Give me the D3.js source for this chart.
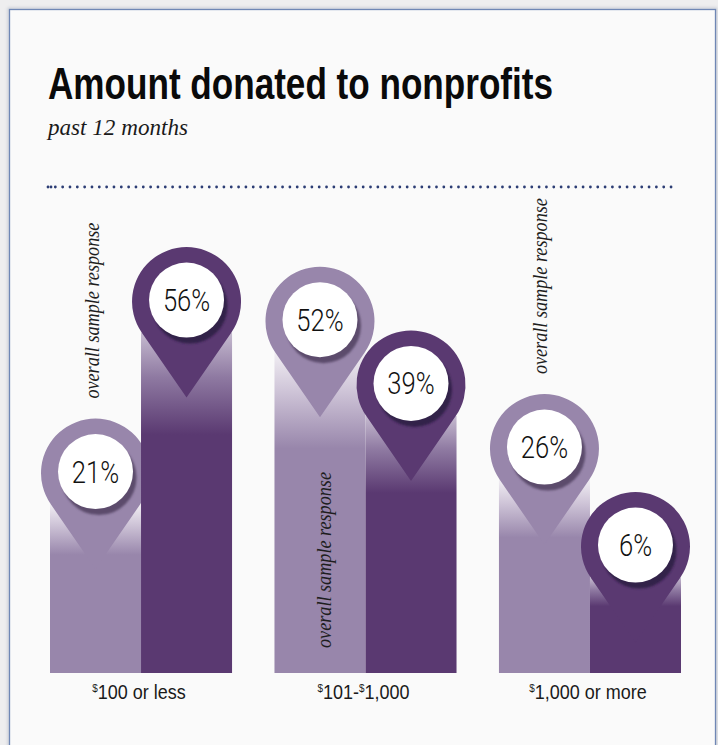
<!DOCTYPE html>
<html>
<head>
<meta charset="utf-8">
<script src="https://cdn.jsdelivr.net/npm/d3@7"></script>
<style>
  html, body { margin: 0; padding: 0; background: #eeeeef; }
  svg { display: block; }
</style>
</head>
<body>
<svg id="chart" width="718" height="745"></svg>
<script>
// ---- data ----
const categories = ["$100 or less", "$101-$1,000", "$1,000 or more"];
const seriesKeys = ["overall", "segment"];
const overallValues = [21, 52, 26];   // overall sample response
const segmentValues = [56, 39, 6];
const noteText = "overall sample response";
const titleText = "Amount donated to nonprofits";
const subtitleText = "past 12 months";

const rows = categories.map((c, i) => ({
  category: c,
  values: [
    { key: "overall", value: overallValues[i] },
    { key: "segment", value: segmentValues[i] }
  ]
}));

// ---- layout ----
const baseline = 673;
const pinR = 54.5, pinTip = 96, innerR = 37.5;
const tangentY = pinR * pinR / pinTip;               // where the pin's sides meet the circle
const tangentX = Math.sqrt(pinR * pinR - tangentY * tangentY);

const colors = { overall: "#9886ab", segment: "#5a3971" };
const shadowCol = { overall: "#5c4c6c", segment: "#33204a" };

const svg = d3.select("#chart");
const defs = svg.append("defs");

// gradients: bars fade to pale toward the top
function addGrad(id, stops) {
  const g = defs.append("linearGradient").attr("id", id)
    .attr("x1", 0).attr("y1", 0).attr("x2", 0).attr("y2", 1);
  stops.forEach(([o, c]) => g.append("stop").attr("offset", o).attr("stop-color", c));
}
addGrad("grad-overall", [[0, "#f1eef3"], [0.12, "#cfc5d8"], [0.3, colors.overall], [1, colors.overall]]);
addGrad("grad-segment", [[0, "#c6bbd0"], [0.13, "#8f7aa2"], [0.3, colors.segment], [1, colors.segment]]);

const blur = defs.append("filter").attr("id", "soft")
  .attr("x", "-30%").attr("y", "-30%").attr("width", "160%").attr("height", "160%");
blur.append("feGaussianBlur").attr("stdDeviation", 1.3);

const panelShadow = defs.append("filter").attr("id", "panelShadow")
  .attr("x", "-5%").attr("y", "-5%").attr("width", "110%").attr("height", "110%");
panelShadow.append("feGaussianBlur").attr("stdDeviation", 1.5);

// ---- panel ----
svg.append("rect").attr("x", 9).attr("y", 9).attr("width", 707).attr("height", 800)
  .attr("fill", "none").attr("stroke", "#c9cdd6").attr("stroke-width", 3).attr("filter", "url(#panelShadow)");
svg.append("rect").attr("x", 9.5).attr("y", 9.5).attr("width", 706).attr("height", 800)
  .attr("fill", "#fafafa").attr("stroke", "#6f87b5").attr("stroke-width", 1.3);

// ---- titles ----
svg.append("text")
  .attr("x", 48).attr("y", 99)
  .attr("font-family", "'Liberation Sans Narrow', 'Liberation Sans', Arial, sans-serif")
  .attr("font-weight", "bold").attr("font-size", 45)
  .attr("textLength", 505).attr("lengthAdjust", "spacingAndGlyphs")
  .attr("fill", "#0a0a0a")
  .text(titleText);

svg.append("text")
  .attr("x", 48).attr("y", 135)
  .attr("font-family", "'Liberation Serif', 'Times New Roman', serif")
  .attr("font-style", "italic").attr("font-size", 24)
  .attr("textLength", 140).attr("lengthAdjust", "spacingAndGlyphs")
  .attr("fill", "#1a1a1a")
  .text(subtitleText);

// dotted rule
svg.append("line")
  .attr("x1", 48).attr("x2", 678).attr("y1", 187).attr("y2", 187)
  .attr("stroke", "#2c3d74").attr("stroke-width", 2.8)
  .attr("stroke-linecap", "round").attr("stroke-dasharray", "0 7.33");
svg.append("circle").attr("cx", 51).attr("cy", 187).attr("r", 1.4).attr("fill", "#2c3d74");

// ---- scales ----
const x0 = d3.scaleBand().domain(categories).range([50, 681]).paddingInner(0.189).paddingOuter(0);
const x1 = d3.scaleBand().domain(seriesKeys).range([0, x0.bandwidth()]);
// value -> vertical position of the pin's centre
const y = d3.scaleLinear().domain([0, 100]).range([576, 86]);

const pinPath = `M0,${pinTip} L${tangentX},${tangentY} A${pinR},${pinR} 0 1 0 ${-tangentX},${tangentY} Z`;

const groups = svg.append("g").selectAll("g.group")
  .data(rows).join("g")
  .attr("class", "group")
  .attr("transform", d => `translate(${x0(d.category)},0)`);

const marks = groups.selectAll("g.mark")
  .data(d => d.values).join("g")
  .attr("class", "mark");

// bar, pin, and badge drawn per series so the darker series overlays the lighter one
marks.each(function (d) {
  const g = d3.select(this);
  const bx = x1(d.key);
  const bw = x1.bandwidth();
  const cx = bx + bw / 2;
  const cy = y(d.value);
  const top = cy + tangentY;

  g.append("rect")
    .attr("x", bx).attr("width", bw)
    .attr("y", top).attr("height", baseline - top)
    .attr("fill", `url(#grad-${d.key})`);

  const pin = g.append("g").attr("transform", `translate(${cx},${cy})`);
  pin.append("path").attr("d", pinPath).attr("fill", colors[d.key]);
  pin.append("circle").attr("cx", 3.5).attr("cy", 4.5).attr("r", innerR)
    .attr("fill", shadowCol[d.key]).attr("filter", "url(#soft)");
  pin.append("circle").attr("cx", 0).attr("cy", -1.5).attr("r", innerR).attr("fill", "#ffffff");
  pin.append("text")
    .attr("x", 0).attr("y", -2).attr("dy", "0.36em")
    .attr("text-anchor", "middle")
    .attr("transform", "scale(0.8,1)")
    .attr("font-family", "Roboto, 'Liberation Sans', sans-serif")
    .attr("font-weight", 300).attr("font-size", 32)
    .attr("fill", "#111")
    .text(d.value + "%");
});

// ---- "overall sample response" notes beside the lighter bars ----
const chartTop = 200;
groups.each(function (d) {
  const v = d.values[0].value;
  const cx = x1("overall") + x1.bandwidth() / 2;
  const pinTop = y(v) - pinR;
  const roomAbove = pinTop - chartTop > 185;
  const startY = roomAbove ? pinTop - 20 : baseline - 25;
  const bx = cx + (roomAbove ? 3 : 11);
  d3.select(this).append("text")
    .attr("transform", `translate(${bx},${startY}) rotate(-90)`)
    .attr("font-family", "'Liberation Serif', 'Times New Roman', serif")
    .attr("font-style", "italic").attr("font-size", 20)
    .attr("textLength", 176).attr("lengthAdjust", "spacingAndGlyphs")
    .attr("fill", "#1e1e1e")
    .text(noteText);
});

// ---- category axis ----
const axis = svg.append("g")
  .attr("transform", `translate(0,${baseline})`)
  .call(d3.axisBottom(x0).tickSize(0).tickPadding(0));
axis.select(".domain").remove();
axis.selectAll(".tick").attr("transform", d => `translate(${x0(d) + x1.bandwidth() - 2},0)`);
axis.selectAll(".tick text")
  .attr("y", 26).attr("dy", null)
  .attr("font-family", "'Liberation Sans', Arial, sans-serif")
  .attr("font-size", 20).attr("fill", "#1a1a1a")
  .attr("transform", "scale(0.9,1)")
  .each(function (d) {
    const t = d3.select(this);
    t.text(null);
    // currency signs set as small superscripts
    let shift = 0;
    d.split(/(\$)/).filter(s => s.length).forEach(part => {
      const target = part === "$" ? -7 : 0;
      t.append("tspan")
        .attr("dy", target - shift)
        .attr("font-size", part === "$" ? 11 : null)
        .text(part);
      shift = target;
    });
  });
</script>
</body>
</html>
